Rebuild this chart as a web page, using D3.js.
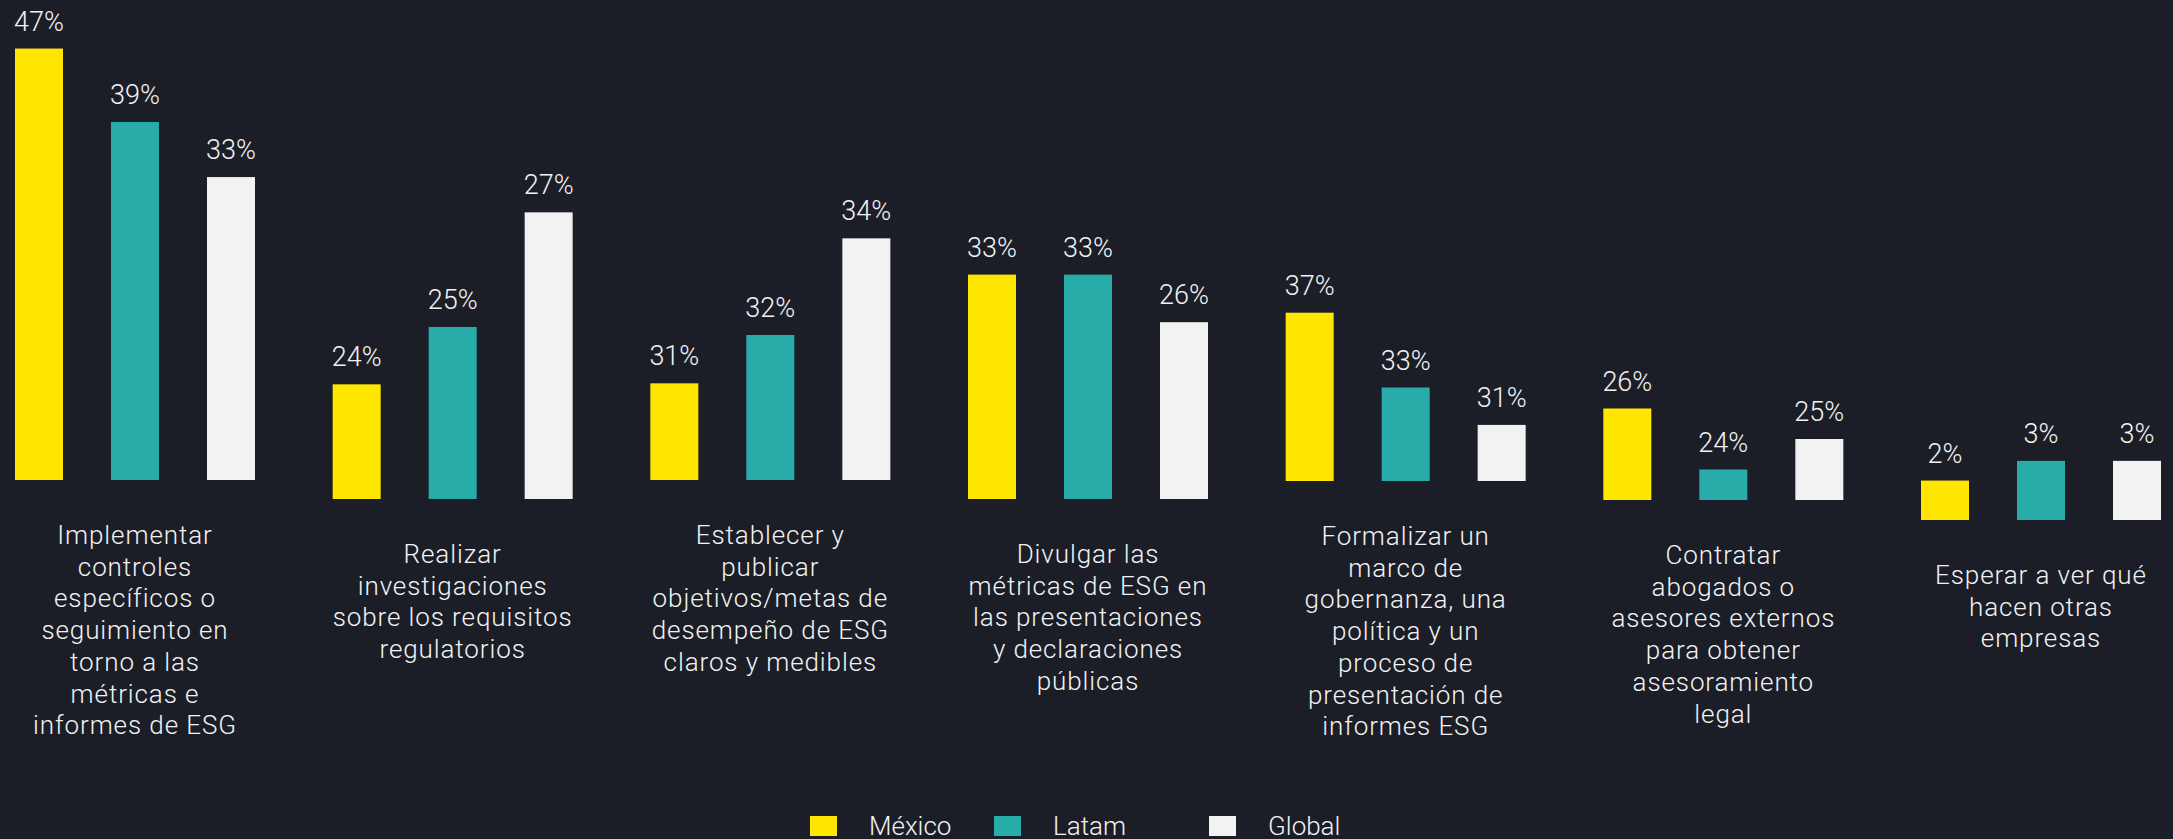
<!DOCTYPE html>
<html>
<head>
<meta charset="utf-8">
<script src="https://cdn.jsdelivr.net/npm/d3@7"></script>
<style>
  html, body { margin: 0; padding: 0; background: #1b1e27; }
  svg { display: block; }
  text { font-family: Roboto, "Noto Sans", sans-serif; fill: #f2f2f2; }
</style>
</head>
<body>
<svg id="chart" width="2173" height="839"></svg>
<script>
// ---- data ----
const categories = [
  "Implementar\ncontroles\nespecíficos o\nseguimiento en\ntorno a las\nmétricas e\ninformes de ESG",
  "Realizar\ninvestigaciones\nsobre los requisitos\nregulatorios",
  "Establecer y\npublicar\nobjetivos/metas de\ndesempeño de ESG\nclaros y medibles",
  "Divulgar las\nmétricas de ESG en\nlas presentaciones\ny declaraciones\npúblicas",
  "Formalizar un\nmarco de\ngobernanza, una\npolítica y un\nproceso de\npresentación de\ninformes ESG",
  "Contratar\nabogados o\nasesores externos\npara obtener\nasesoramiento\nlegal",
  "Esperar a ver qué\nhacen otras\nempresas"
];
const seriesNames = ["México", "Latam", "Global"];
const mexico = [47, 24, 31, 33, 37, 26, 2];
const latam  = [39, 25, 32, 33, 33, 24, 3];
const global = [33, 27, 34, 26, 31, 25, 3];
// each group was drawn as its own small chart with its own value axis
const axisMin = [0, 22, 29, 0, 28, 23, 0];
const axisMax = [50, 28, 35, 35, 38, 27, 3.5];

// ---- layout ----
const W = 2173, H = 839;
const colors = ["#ffe600", "#27acaa", "#f2f2f2"];
const plotBottom = [480, 499, 480, 499, 481, 500, 520];
const plotTop    = [21, 155, 190, 261, 294, 378, 451];

const svg = d3.select("#chart");
svg.append("rect").attr("width", W).attr("height", H).attr("fill", "#1b1e27");

const values = [mexico, latam, global];
const rows = categories.map((c, i) => ({
  cat: c, i,
  vals: seriesNames.map((s, k) => ({ s, k, v: values[k][i] }))
}));

const x0 = d3.scaleBand().domain(categories).range([15, 2161]).paddingInner(0.2445).paddingOuter(0);
const x1 = d3.scaleBand().domain(seriesNames).range([0, x0.bandwidth()]).paddingInner(0.5).paddingOuter(0);
const color = d3.scaleOrdinal().domain(seriesNames).range(colors);
const yScales = categories.map((c, i) =>
  d3.scaleLinear().domain([axisMin[i], axisMax[i]]).range([plotBottom[i], plotTop[i]]));

const groups = svg.selectAll("g.group").data(rows).join("g")
  .attr("class", "group")
  .attr("transform", d => `translate(${x0(d.cat)},0)`);

groups.each(function(d) {
  const g = d3.select(this);
  const y = yScales[d.i];
  g.selectAll("rect.bar").data(d.vals).join("rect")
    .attr("class", "bar")
    .attr("x", v => x1(v.s))
    .attr("width", x1.bandwidth())
    .attr("y", v => y(v.v))
    .attr("height", v => y(axisMin[d.i]) - y(v.v))
    .attr("fill", v => color(v.s));
  g.selectAll("text.val").data(d.vals).join("text")
    .attr("class", "val")
    .attr("x", v => x1(v.s) + x1.bandwidth() / 2)
    .attr("y", v => y(v.v) - 18)
    .attr("text-anchor", "middle")
    .style("font-size", "27px")
    .style("font-weight", 300)
    .text(v => v.v + "%");
  const lbl = g.append("text")
    .attr("class", "cat")
    .attr("text-anchor", "middle")
    .style("font-size", "26px")
    .style("font-weight", 300)
    .style("letter-spacing", "0.9px")
    .attr("y", y(axisMin[d.i]) + 64);
  d.cat.split("\n").forEach((line, li) => {
    lbl.append("tspan")
      .attr("x", x0.bandwidth() / 2)
      .attr("dy", li === 0 ? 0 : 31.7)
      .text(line);
  });
});

// ---- legend ----
const legendX = [810, 994, 1209];
const legend = svg.append("g").attr("class", "legend");
seriesNames.forEach((s, k) => {
  const lg = legend.append("g").attr("transform", `translate(${legendX[k]},816)`);
  lg.append("rect").attr("width", 27).attr("height", 20).attr("fill", color(s));
  lg.append("text").attr("x", 59).attr("y", 19)
    .style("font-size", "26px").style("font-weight", 300).text(s);
});
</script>
</body>
</html>
